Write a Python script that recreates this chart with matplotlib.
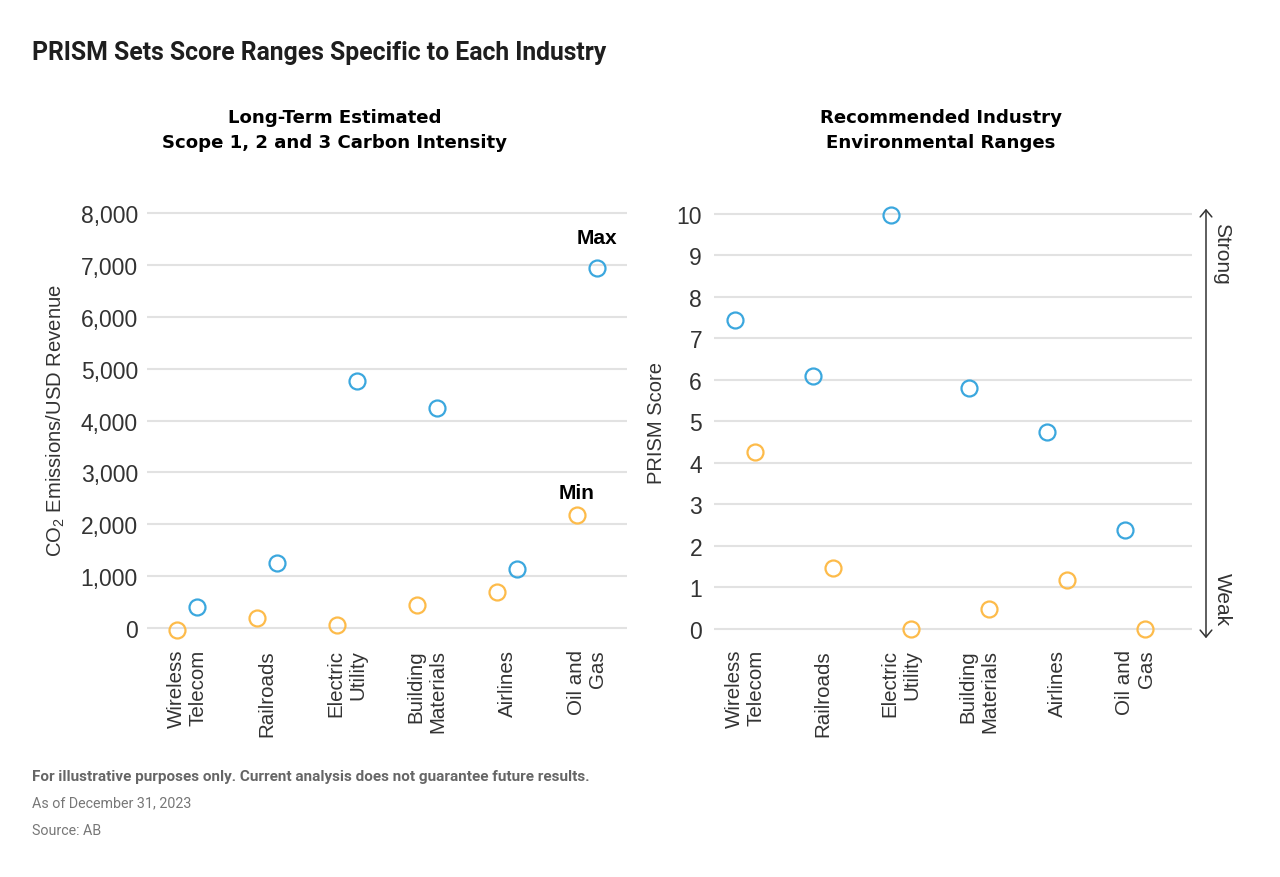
import matplotlib
matplotlib.use('Agg')
import matplotlib.pyplot as plt
from matplotlib.patches import FancyArrowPatch

# ---------------- data ----------------
categories = ['Wireless\nTelecom', 'Railroads', 'Electric\nUtility',
              'Building\nMaterials', 'Airlines', 'Oil and\nGas']
carbon_min = [-30, 200, 50, 450, 700, 2180]
carbon_max = [400, 1250, 4760, 4240, 1140, 6940]
prism_min = [4.27, 1.48, 0.0, 0.49, 1.17, 0.0]
prism_max = [7.45, 6.10, 9.98, 5.81, 4.75, 2.39]
carbon_ticks = [0, 1000, 2000, 3000, 4000, 5000, 6000, 7000, 8000]
prism_ticks = [0, 1, 2, 3, 4, 5, 6, 7, 8, 9, 10]

BLUE = '#3ba7de'
ORANGE = '#fdbb4a'
GRID = '#e2e2e2'
TXT = '#333333'

plt.rcParams['font.family'] = ['Liberation Sans', 'DejaVu Sans']
plt.rcParams['mathtext.fontset'] = 'custom'
plt.rcParams['mathtext.rm'] = 'Liberation Sans'
plt.rcParams['mathtext.it'] = 'Liberation Sans:italic'
plt.rcParams['mathtext.bf'] = 'Liberation Sans:bold'

W, H = 1280, 878
fig = plt.figure(figsize=(W / 100, H / 100), dpi=100)
fig.patch.set_facecolor('white')


def fx(x):
    return x / W


def fy(y):
    return 1 - y / H


ax1 = fig.add_axes([fx(147), fy(640), (627 - 147) / W, 440 / H])
ax2 = fig.add_axes([fx(714), fy(640), (1192 - 714) / W, 440 / H])

off = 0.125
xs = list(range(len(categories)))

# left chart: min (orange) on the left, max (blue) on the right
# right chart: max (blue) on the left, min (orange) on the right
for ax, mins, maxs, sgn in ((ax1, carbon_min, carbon_max, 1),
                            (ax2, prism_min, prism_max, -1)):
    ax.plot([x - sgn * off for x in xs], mins, linestyle='none', marker='o', ms=11.5,
            mfc='none', mec=ORANGE, mew=1.6, clip_on=False, zorder=3)
    ax.plot([x + sgn * off for x in xs], maxs, linestyle='none', marker='o', ms=11.5,
            mfc='none', mec=BLUE, mew=1.6, clip_on=False, zorder=3)
    for s in ax.spines.values():
        s.set_visible(False)
    ax.grid(axis='y', color=GRID, lw=1.5)
    ax.grid(axis='x', visible=False)
    ax.set_axisbelow(True)
    ax.set_xticks(xs)
    ax.set_xticklabels(categories, rotation=90, fontsize=14.8, color=TXT,
                       ha='center', va='top', multialignment='right')
    ax.tick_params(axis='both', length=0)
    ax.tick_params(axis='x', pad=7.2)

ax1.set_xlim(-0.5, 5.5)
ax1.set_ylim(-212, 8270)
ax1.set_yticks(carbon_ticks)
ax1.set_yticklabels([f'{t:,}' for t in carbon_ticks], fontsize=16.5, color=TXT)
ax1.tick_params(axis='y', pad=6.5)

ax2.set_xlim(-0.40, 5.73)
ax2.set_ylim(-0.241, 10.361)
ax2.set_yticks(prism_ticks)
ax2.set_yticklabels([str(t) for t in prism_ticks], fontsize=16.5, color=TXT)
ax2.tick_params(axis='y', pad=8.6)

# Max / Min annotations
ax1.annotate('Max', xy=(xs[-1] + off, carbon_max[-1]), xytext=(0, 22),
             textcoords='offset points', ha='center', va='center',
             fontsize=15, fontweight='bold', color='black')
ax1.annotate('Min', xy=(xs[-1] - off, carbon_min[-1]), xytext=(0, 16.2),
             textcoords='offset points', ha='center', va='center',
             fontsize=15, fontweight='bold', color='black')

# axis labels
fig.text(fx(56), fy(420.5), r'CO$_\mathregular{2}$ Emissions/USD Revenue',
         rotation=90, ha='center', va='center', fontsize=14.6, color=TXT)
fig.text(fx(657), fy(422.5), 'PRISM Score', rotation=90, ha='center',
         va='center', fontsize=14.5, color=TXT)

# Strong / Weak arrow
arrow = FancyArrowPatch((fx(1206), fy(642)), (fx(1206), fy(207)),
                        transform=fig.transFigure,
                        arrowstyle='<->,head_length=0.5,head_width=0.42',
                        mutation_scale=10, lw=1.1, color=TXT)
fig.add_artist(arrow)
fig.text(fx(1222), fy(254), 'Strong', rotation=-90, ha='center', va='center',
         fontsize=15, color=TXT)
fig.text(fx(1222), fy(600), 'Weak', rotation=-90, ha='center', va='center',
         fontsize=15, color=TXT)

# titles
fig.text(fx(32), fy(60), 'PRISM Sets Score Ranges Specific to Each Industry',
         ha='left', va='baseline', fontsize=17.8, fontweight='bold',
         family='Roboto', color='#1e1e1e')
sub_kw = dict(ha='center', va='baseline', fontsize=13.1, fontweight='bold',
              family='DejaVu Sans', color='black')
fig.text(fx(335), fy(123), 'Long-Term Estimated', **sub_kw)
fig.text(fx(335), fy(148.3), 'Scope 1, 2 and 3 Carbon Intensity', **sub_kw)
fig.text(fx(941), fy(123), 'Recommended Industry', **sub_kw)
fig.text(fx(941), fy(148.3), 'Environmental Ranges', **sub_kw)

# footer
fig.text(fx(32), fy(777), 'For illustrative purposes only. Current analysis does not guarantee future results.',
         ha='left', va='center', fontsize=11.0, fontweight='bold', family='Roboto',
         color='#666666')
fig.text(fx(32), fy(803.5), 'As of December 31, 2023', ha='left', va='center',
         fontsize=10.3, family='Roboto', color='#777777')
fig.text(fx(32), fy(831), 'Source: AB', ha='left', va='center',
         fontsize=10.3, family='Roboto', color='#777777')

fig.savefig('out.png', dpi=100, facecolor='white')
